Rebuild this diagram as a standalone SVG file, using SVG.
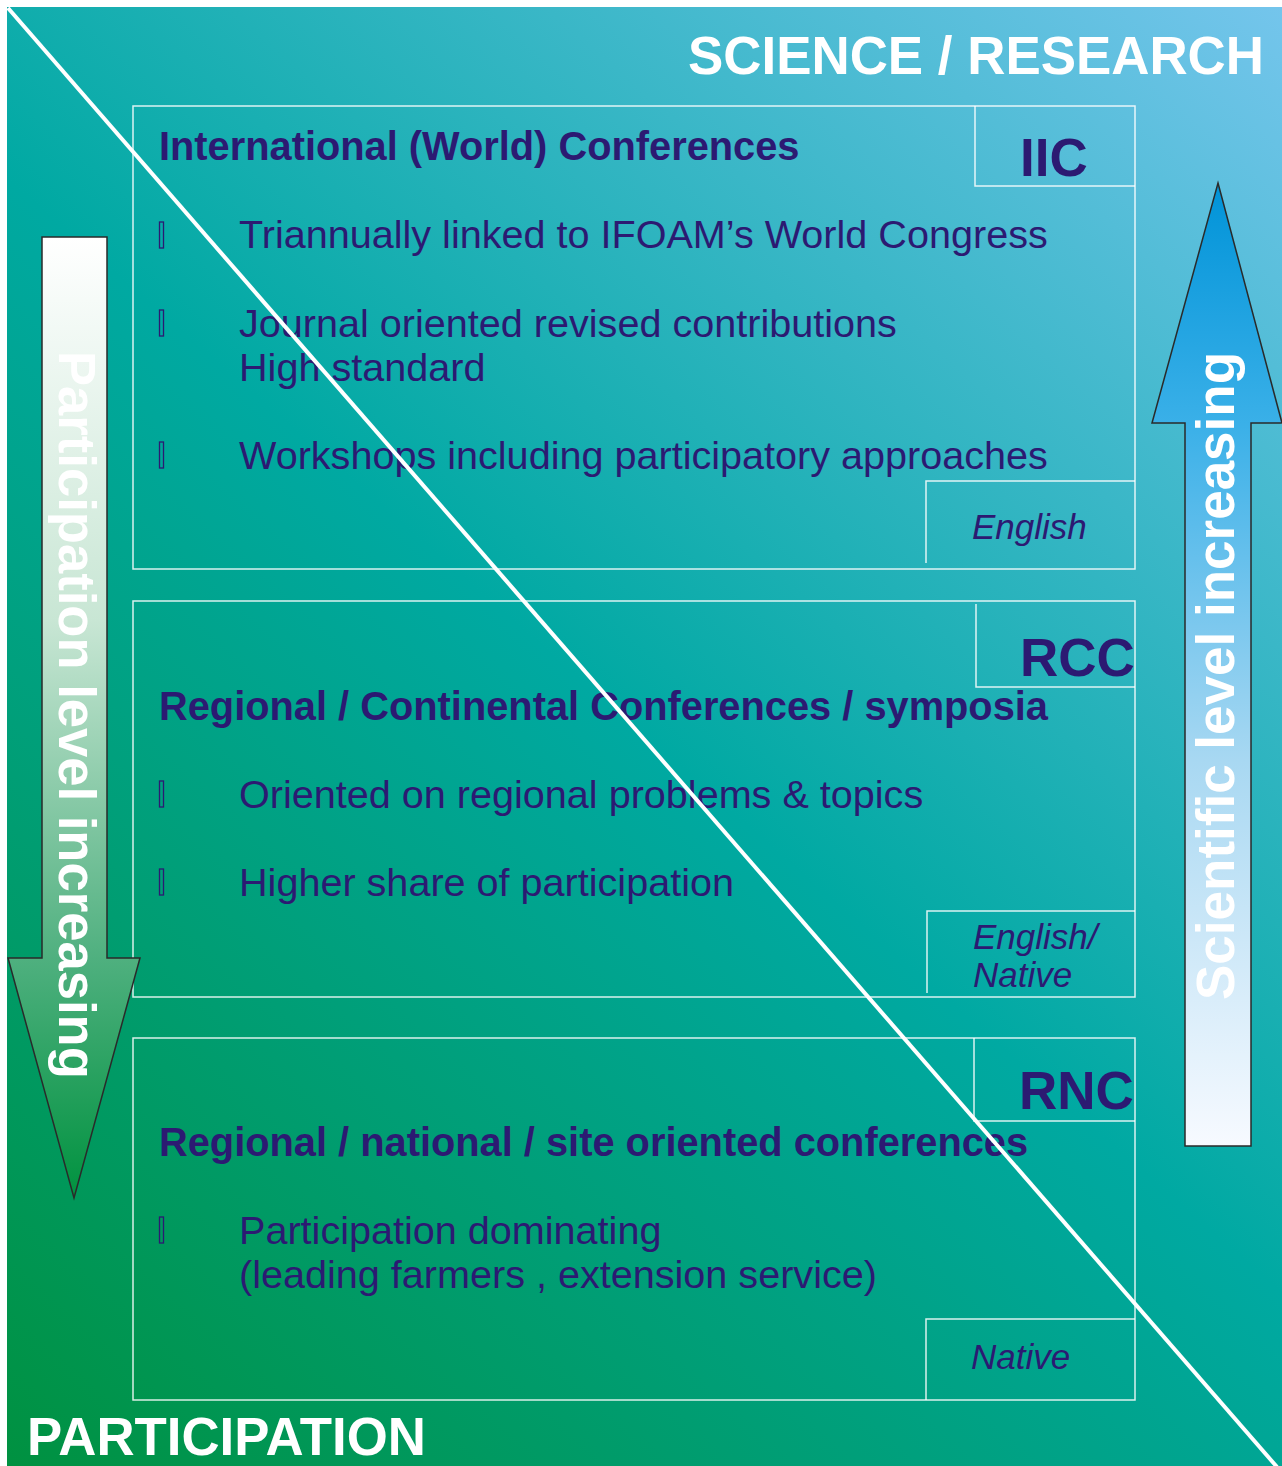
<svg xmlns="http://www.w3.org/2000/svg" width="1282" height="1466" viewBox="0 0 1282 1466">
<defs>
<linearGradient id="bg" gradientUnits="userSpaceOnUse" x1="7" y1="1466" x2="1282" y2="7">
<stop offset="0" stop-color="#009140"/>
<stop offset="0.5" stop-color="#00A9A2"/>
<stop offset="1" stop-color="#74C5EC"/>
</linearGradient>
<linearGradient id="ga" gradientUnits="userSpaceOnUse" x1="0" y1="237" x2="0" y2="1198">
<stop offset="0" stop-color="#FFFFFF"/>
<stop offset="0.4" stop-color="#C8E6D4"/>
<stop offset="0.75" stop-color="#4FB07F"/>
<stop offset="1" stop-color="#00923F"/>
</linearGradient>
<linearGradient id="gb" gradientUnits="userSpaceOnUse" x1="0" y1="183" x2="0" y2="1146">
<stop offset="0" stop-color="#0093D8"/>
<stop offset="0.25" stop-color="#3AB0E8"/>
<stop offset="0.6" stop-color="#A8D8F2"/>
<stop offset="1" stop-color="#F7FAFF"/>
</linearGradient>
<style>
.frame{fill:none;stroke:#FFFFFF;stroke-opacity:0.85;stroke-width:1.5}
.t{font-family:"Liberation Sans",Arial,Helvetica,sans-serif;fill:#2C1A72}
.h{font-size:39.8px;font-weight:bold}
.b{font-size:39.6px}
.i{font-size:35px;font-style:italic}
.c{font-size:53px;font-weight:bold}
.w{font-family:"Liberation Sans",Arial,Helvetica,sans-serif;fill:#FFFFFF;font-weight:bold}
.bul{fill:none;stroke:#2C1A72;stroke-width:1.3}
.arr{stroke:#2a2a2a;stroke-width:1.5}
</style>
</defs>
<rect x="0" y="0" width="1282" height="1466" fill="#FFFFFF"/>
<rect x="7" y="7" width="1275" height="1459" fill="url(#bg)"/>

<g id="iic">
<rect class="frame" x="133" y="106" width="1002" height="463"/>
<path class="frame" d="M975 106 V186 H1135"/>
<path class="frame" d="M926 563 V481 H1135"/>
<text class="t h" x="159" y="160">International (World) Conferences</text>
<text class="t c" x="1020" y="176">IIC</text>
<rect class="bul" x="159.5" y="222" width="4" height="26"/>
<text class="t b" x="239" y="248">Triannually linked to IFOAM’s World Congress</text>
<rect class="bul" x="159.5" y="310" width="4" height="26"/>
<text class="t b" x="239" y="337">Journal oriented revised contributions</text>
<text class="t b" x="239" y="381">High standard</text>
<rect class="bul" x="159.5" y="442" width="4" height="26"/>
<text class="t b" x="239" y="469">Workshops including participatory approaches</text>
<text class="t i" x="972" y="539">English</text>
</g>

<g id="rcc">
<rect class="frame" x="133" y="601" width="1002" height="396"/>
<path class="frame" d="M976 604 V687 H1135"/>
<path class="frame" d="M927 993 V911 H1135"/>
<text class="t c" x="1020" y="676">RCC</text>
<text class="t h" x="159" y="720">Regional / Continental Conferences / symposia</text>
<rect class="bul" x="159.5" y="781" width="4" height="26"/>
<text class="t b" x="239" y="808">Oriented on regional problems &amp; topics</text>
<rect class="bul" x="159.5" y="869" width="4" height="26"/>
<text class="t b" x="239" y="896">Higher share of participation</text>
<text class="t i" x="973" y="949">English/</text>
<text class="t i" x="973" y="987">Native</text>
</g>

<g id="rnc">
<rect class="frame" x="133" y="1038" width="1002" height="362"/>
<path class="frame" d="M974 1038 V1121 H1135"/>
<path class="frame" d="M926 1400 V1319 H1135"/>
<text class="t c" x="1019" y="1109">RNC</text>
<text class="t h" x="159" y="1156">Regional / national / site oriented conferences</text>
<rect class="bul" x="159.5" y="1217" width="4" height="26"/>
<text class="t b" x="239" y="1244">Participation dominating</text>
<text class="t b" x="239" y="1288">(leading farmers , extension service)</text>
<text class="t i" x="971" y="1369">Native</text>
</g>

<g id="participation-arrow">
<polygon class="arr" fill="url(#ga)" points="42,237 107,237 107,958 140,958 74,1198 8,958 42,958"/>
<text class="w" font-size="52.6" transform="translate(59,351) rotate(90)">Participation level increasing</text>
</g>

<g id="science-arrow">
<polygon class="arr" fill="url(#gb)" points="1218,183 1282,423 1251,423 1251,1146 1185,1146 1185,423 1152,423"/>
<text class="w" font-size="53" transform="translate(1234,1000) rotate(-90)">Scientific level increasing</text>
</g>

<g id="labels">
<text class="w" font-size="52.9" x="688" y="74">SCIENCE / RESEARCH</text>
<text class="w" font-size="52.8" x="27" y="1455">PARTICIPATION</text>
</g>

<g id="connectors">
<line x1="8" y1="8" x2="1277" y2="1467" stroke="#FFFFFF" stroke-width="4"/>
</g>
</svg>
